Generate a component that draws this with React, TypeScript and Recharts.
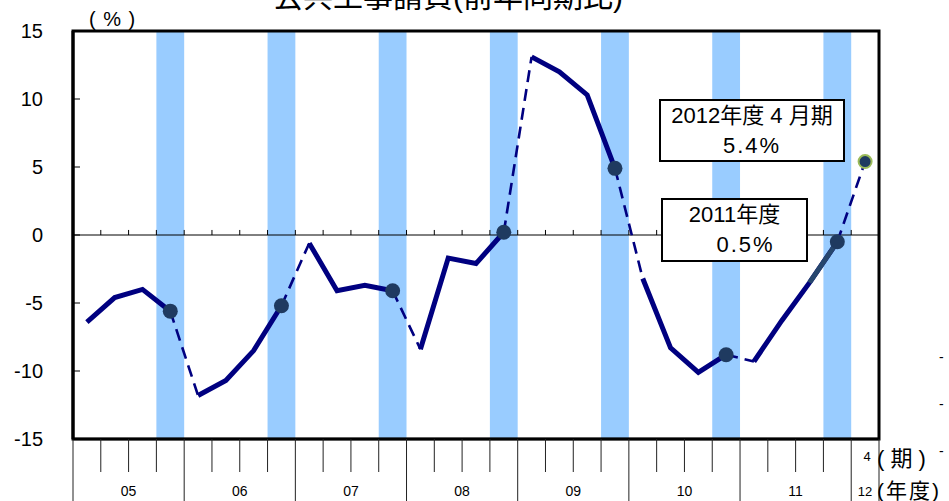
import React from 'react';
import { ComposedChart, Line, XAxis, YAxis, ReferenceArea, ReferenceLine } from 'recharts';

// ---- data ----
const fiscalYears = ['05', '06', '07', '08', '09', '10', '11', '12'];
const quarterlyValues = [
  -6.4, -4.6, -4.0, -5.6,
  -11.8, -10.7, -8.5, -5.2,
  -0.6, -4.1, -3.7, -4.1,
  -8.4, -1.7, -2.1, 0.2,
  13.1, 12.0, 10.3, 4.9,
  -3.2, -8.3, -10.1, -8.8,
  -9.3, -6.3, -3.5, -0.5,
  5.4,
];
const yTicks = [-15, -10, -5, 0, 5, 10, 15];
const shadedQuarters = [3, 7, 11, 15, 19, 23, 27];
const highlightedQuarters = [26, 27];
const latestMonthLabel = '4';
const chartTitle = '公共工事請負(前年同期比)';
const unitLabel = '( % )';
const periodUnit = '( 期 )';
const yearUnit = '(年度)';
const calloutLatest = ['2012年度 4 月期', '5.4%'];
const calloutAnnual = ['2011年度', '0.5%'];

// ---- derived table ----
const N = quarterlyValues.length;
const rows = quarterlyValues.map((v, i) => {
  const row: any = { i };
  const y = Math.floor(i / 4);
  row[`s${y}`] = v;
  if (i % 4 === 3) {
    row[`d${y}`] = v;
    row.m = v;
  }
  if (i % 4 === 0 && i > 0) row[`d${y - 1}`] = v;
  if (highlightedQuarters.includes(i)) row.h = v;
  if (i === N - 1) row.last = v;
  return row;
});
const boundaries = Array.from({ length: N + 1 }, (_, k) => k - 0.5);
const xTicks = [...boundaries, N - 1];

const NAVY = '#000080';
const MARK = '#1F3A60';
const FONT = '"Liberation Sans", Arial, "Noto Sans CJK JP", sans-serif';

const XTick = (props: any) => {
  const { x, y, payload } = props;
  const v = payload.value;
  if (Number.isInteger(v)) {
    return (
      <g>
        <text x={x + 2} y={y + 22} textAnchor="middle" fontSize={13} fontFamily={FONT} fill="#000">{latestMonthLabel}</text>
        <text x={x} y={y + 57} textAnchor="middle" fontSize={13} fontFamily={FONT} fill="#000">{fiscalYears[fiscalYears.length - 1]}</text>
      </g>
    );
  }
  const k = Math.round(v + 0.5);
  const long = k % 4 === 0 || k === N;
  return (
    <g>
      <line x1={x} x2={x} y1={y} y2={long ? y + 62 : y + 33} stroke="#222" strokeWidth={1} />
      {k % 4 === 2 ? (
        <text x={x} y={y + 57} textAnchor="middle" fontSize={14} fontFamily={FONT} fill="#000">{fiscalYears[(k - 2) / 4]}</text>
      ) : null}
    </g>
  );
};

const YTick = (props: any) => {
  const { x, y, payload } = props;
  return (
    <g>
      <text x={x} y={y} dy={7} textAnchor="end" fontSize={20} fontFamily={FONT} fill="#000">{payload.value}</text>
      <line x1={x + 30} x2={x + 37} y1={y} y2={y} stroke="#000" strokeWidth={1} />
    </g>
  );
};

const makeDot = (key: string, latest: boolean) => (props: any) => {
  const { cx, cy, payload, index } = props;
  if (payload == null || payload[key] == null || cx == null || cy == null) return <g key={`${key}-${index}`} />;
  return latest ? (
    <circle key={`${key}-${index}`} cx={cx} cy={cy} r={6.5} fill={MARK} stroke="#9BBB59" strokeWidth={2} />
  ) : (
    <circle key={`${key}-${index}`} cx={cx} cy={cy} r={7.5} fill={MARK} />
  );
};

const Callout = ({ x, y, w, h, lines, shift }: any) => (
  <g>
    <rect x={x} y={y} width={w} height={h} fill="#fff" stroke="#000" strokeWidth={2} />
    <text x={x + w / 2} y={y + 23} textAnchor="middle" fontSize={22} fontFamily={FONT} fill="#000">{lines[0]}</text>
    <text x={x + w / 2 + shift} y={y + 53} textAnchor="middle" fontSize={22} letterSpacing={2} fontFamily={FONT} fill="#000">{lines[1]}</text>
  </g>
);

export default function App() {
  return (
    <div style={{ position: 'absolute', left: 0, top: 0, width: 949, height: 501, overflow: 'hidden', background: '#fff' }}>
      <ComposedChart width={949} height={501} data={rows} margin={{ top: 31, right: 70, bottom: 0, left: 13 }}>
        <XAxis
          type="number"
          dataKey="i"
          domain={[-0.5, N - 0.5]}
          ticks={xTicks}
          interval={0}
          allowDecimals
          tick={<XTick />}
          tickLine={false}
          tickSize={0}
          tickMargin={0}
          axisLine={{ stroke: '#000', strokeWidth: 2.5 }}
          height={62}
        />
        <YAxis
          type="number"
          domain={[-15, 15]}
          ticks={yTicks}
          interval={0}
          tick={<YTick />}
          tickLine={false}
          tickSize={0}
          tickMargin={30}
          axisLine={{ stroke: '#000', strokeWidth: 3 }}
          width={60}
        />
        {shadedQuarters.map((q) => (
          <ReferenceArea key={`band-${q}`} x1={q - 0.5} x2={q + 0.5} y1={-15} y2={15} fill="#99CCFF" fillOpacity={1} stroke="none" />
        ))}
        <ReferenceLine y={0} stroke="#000" strokeWidth={1} />
        {boundaries.slice(1, N).map((b) => (
          <ReferenceLine key={`zt-${b}`} segment={[{ x: b, y: 0 }, { x: b, y: 0.37 }]} stroke="#000" strokeWidth={1} />
        ))}
        {fiscalYears.map((_, y) => (
          <Line key={`d${y}`} dataKey={`d${y}`} type="linear" stroke={NAVY} strokeWidth={2.6} strokeDasharray="12 7" dot={false} isAnimationActive={false} connectNulls={false} />
        ))}
        {fiscalYears.map((_, y) => (
          <Line key={`s${y}`} dataKey={`s${y}`} type="linear" stroke={NAVY} strokeWidth={5} dot={false} isAnimationActive={false} connectNulls={false} />
        ))}
        <Line dataKey="h" type="linear" stroke="#26466D" strokeWidth={5} dot={false} isAnimationActive={false} connectNulls={false} />
        <Line dataKey="m" type="linear" stroke="none" dot={makeDot('m', false)} isAnimationActive={false} />
        <Line dataKey="last" type="linear" stroke="none" dot={makeDot('last', true)} isAnimationActive={false} />
        <ReferenceArea x1={-0.5} x2={N - 0.5} y1={-15} y2={15} fill="none" stroke="#000" strokeWidth={3} />
      </ComposedChart>
      <svg width={949} height={501} style={{ position: 'absolute', left: 0, top: 0, pointerEvents: 'none' }}>
        <text x={448} y={7} textAnchor="middle" fontSize={30} fontFamily={FONT} fill="#000">{chartTitle}</text>
        <text x={89} y={26} fontSize={20} fontFamily={FONT} fill="#000" letterSpacing={1}>{unitLabel}</text>
        <Callout x={660} y={100} w={184} h={61} lines={calloutLatest} shift={0} />
        <Callout x={662} y={199} w={145} h={62} lines={calloutAnnual} shift={11} />
        <text x={877} y={466} fontSize={22} fontFamily={FONT} fill="#000">{periodUnit}</text>
        <text x={877} y={498} fontSize={21} letterSpacing={2} fontFamily={FONT} fill="#000">{yearUnit}</text>
        <text x={939} y={362} fontSize={14} fontFamily={FONT} fill="#000">-</text>
        <text x={939} y={409} fontSize={14} fontFamily={FONT} fill="#000">-</text>
        <text x={939} y={456} fontSize={14} fontFamily={FONT} fill="#000">-</text>
      </svg>
    </div>
  );
}
